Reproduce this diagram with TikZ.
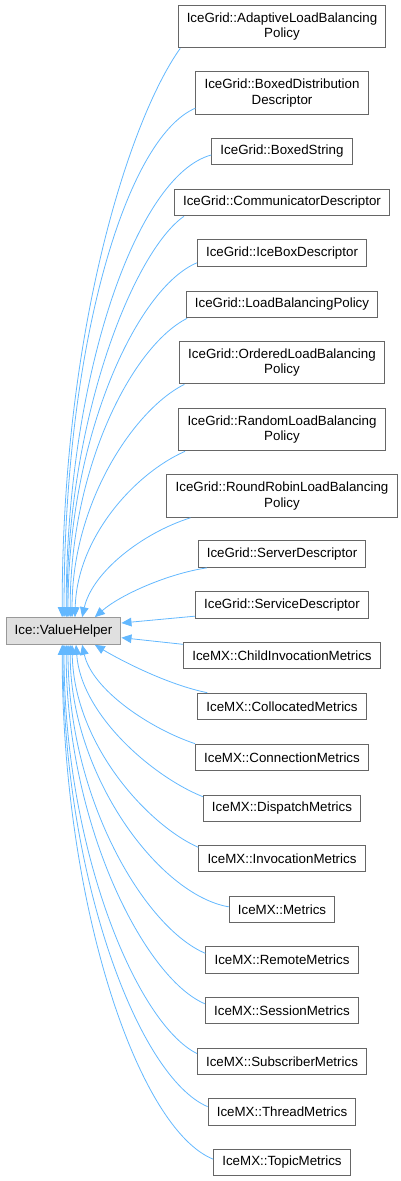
\documentclass[tikz,border=0pt]{standalone}
\usepackage{fontspec}
\setmainfont{Liberation Sans}
\usetikzlibrary{arrows.meta}
\definecolor{edgec}{HTML}{63B8FF}
\definecolor{boxc}{HTML}{666666}
\definecolor{basec}{HTML}{999999}
\definecolor{basefill}{HTML}{E0E0E0}

\begin{document}
\begin{tikzpicture}[
    x=0.75pt, y=-0.75pt,
    font=\fontsize{10}{11.5}\selectfont,
    cls/.style={draw=boxc,fill=white,line width=0.75pt,inner xsep=6.5pt,inner ysep=2pt,minimum height=20pt,align=center},
    cls2/.style={cls,minimum height=32pt},
    base/.style={cls,draw=basec,fill=basefill},
    inh/.style={draw=edgec,line width=0.6pt,-{Triangle[length=7.5pt,width=6.5pt]}},
  ]
\useasboundingbox (0,0) rectangle (400,1181);

% ======================= base class =======================
\node[base] (vh) at (63.5,631) {Ice::ValueHelper};

% ======================= IceGrid classes =======================
\node[cls2] (adaptive)    at (282,26.5)  {IceGrid::AdaptiveLoadBalancing\\Policy};
\node[cls2] (boxedDist)   at (282,93)    {IceGrid::BoxedDistribution\\Descriptor};
\node[cls]  (boxedStr)    at (282,151.5) {IceGrid::BoxedString};
\node[cls]  (commDesc)    at (282,202.5) {IceGrid::CommunicatorDescriptor};
\node[cls]  (iceBox)      at (282,253)   {IceGrid::IceBoxDescriptor};
\node[cls]  (lbPolicy)    at (282,304.5) {IceGrid::LoadBalancingPolicy};
\node[cls2] (orderedLb)   at (282,362.5) {IceGrid::OrderedLoadBalancing\\Policy};
\node[cls2] (randomLb)    at (282,429.5) {IceGrid::RandomLoadBalancing\\Policy};
\node[cls2] (rrLb)        at (282,496)   {IceGrid::RoundRobinLoadBalancing\\Policy};
\node[cls]  (serverDesc)  at (282,554)   {IceGrid::ServerDescriptor};
\node[cls]  (serviceDesc) at (282,605)   {IceGrid::ServiceDescriptor};

% ======================= IceMX classes =======================
\node[cls] (childInv)   at (282,655.5)  {IceMX::ChildInvocationMetrics};
\node[cls] (collocated) at (282,706.5)  {IceMX::CollocatedMetrics};
\node[cls] (connection) at (282,757.5)  {IceMX::ConnectionMetrics};
\node[cls] (dispatch)   at (282,808.5)  {IceMX::DispatchMetrics};
\node[cls] (invocation) at (282,858.5)  {IceMX::InvocationMetrics};
\node[cls] (metrics)    at (282,909.5)  {IceMX::Metrics};
\node[cls] (remote)     at (282,960)    {IceMX::RemoteMetrics};
\node[cls] (session)    at (282,1010.5) {IceMX::SessionMetrics};
\node[cls] (subscriber) at (282,1061.5) {IceMX::SubscriberMetrics};
\node[cls] (thread)     at (282,1112)   {IceMX::ThreadMetrics};
\node[cls] (topic)      at (282,1162.5) {IceMX::TopicMetrics};

% inheritance edges, arrow at the base class
\draw[inh] ([xshift=2pt]adaptive.south west) .. controls +(-50,70) and +(0,-290) .. ([xshift=-1pt]vh.north);
\draw[inh] ([yshift=5pt]boxedDist.south west) .. controls +(-70,30) and +(0,-270) .. ([xshift=0.4pt]vh.north);
\draw[inh] ([yshift=-2.6pt]boxedStr.west) .. controls +(-75,20) and +(0,-240) .. ([xshift=2pt]vh.north);
\draw[inh] ([xshift=7.5pt]commDesc.south west) .. controls +(-50,35) and +(0,-200) .. ([xshift=2.6pt]vh.north);
\draw[inh] ([yshift=3pt]iceBox.south west) .. controls +(-60,25) and +(0,-180) .. ([xshift=3.4pt]vh.north);
\draw[inh] ([xshift=1pt]lbPolicy.south west) .. controls +(-55,28) and +(0,-150) .. ([xshift=5pt]vh.north);
\draw[inh] ([xshift=4pt]orderedLb.south west) .. controls +(-50,25) and +(0,-115) .. ([xshift=6.4pt]vh.north);
\draw[inh] ([xshift=5pt]randomLb.south west) .. controls +(-50,22) and +(2,-80) .. ([xshift=8.6pt]vh.north);
\draw[inh] ([xshift=18pt]rrLb.south west) .. controls +(-48,15) and +(10,-45) .. ([xshift=14pt]vh.north);
\draw[inh] ([xshift=7pt]serverDesc.south west) .. controls +(-40,6) and +(25,-22) .. ([xshift=23.5pt]vh.north);
\draw[inh] ([yshift=2pt]serviceDesc.south west) -- ([yshift=6pt]vh.east);
\draw[inh] ([yshift=-2pt]childInv.north west) -- ([yshift=-5pt]vh.east);
\draw[inh] ([xshift=7.5pt]collocated.north west) .. controls +(-40,-8) and +(25,15) .. ([xshift=23.5pt]vh.south);
\draw[inh] (connection.north west) .. controls +(-45,-15) and +(10,45) .. ([xshift=14pt]vh.south);
\draw[inh] ([yshift=-1.5pt]dispatch.north west) .. controls +(-50,-20) and +(5,70) .. ([xshift=9.4pt]vh.south);
\draw[inh] ([yshift=-2pt]invocation.north west) .. controls +(-50,-22) and +(2,100) .. ([xshift=6.4pt]vh.south);
\draw[inh] ([yshift=2pt]metrics.west) .. controls +(-70,-12) and +(0,130) .. ([xshift=5pt]vh.south);
\draw[inh] ([yshift=5pt]remote.west) .. controls +(-60,-25) and +(0,155) .. ([xshift=3.4pt]vh.south);
\draw[inh] ([yshift=5pt]session.west) .. controls +(-60,-25) and +(0,180) .. ([xshift=2pt]vh.south);
\draw[inh] ([yshift=6pt]subscriber.west) .. controls +(-60,-30) and +(0,205) .. ([xshift=0.4pt]vh.south);
\draw[inh] ([yshift=4pt]thread.west) .. controls +(-70,-30) and +(0,230) .. ([xshift=-0.4pt]vh.south);
\draw[inh] ([yshift=2.5pt]topic.west) .. controls +(-75,-30) and +(0,260) .. ([xshift=-1pt]vh.south);

\end{tikzpicture}
\end{document}
